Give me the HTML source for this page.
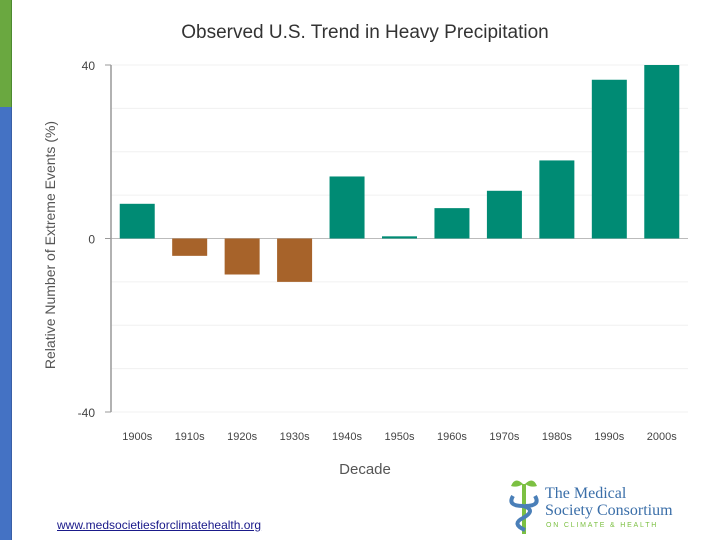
<!DOCTYPE html>
<html><head><meta charset="utf-8"><style>
body{margin:0;width:720px;height:540px;background:#fff;overflow:hidden;font-family:"Liberation Sans",sans-serif;position:relative}
</style></head><body>
<div style="position:absolute;left:0;top:0;width:11px;height:107px;background:#6aa840;border-right:1px solid #4d8a30"></div>
<div style="position:absolute;left:0;top:107px;width:11px;height:433px;background:#4472c4;border-right:1px solid #3a5fa6"></div>
<svg width="720" height="540" style="position:absolute;left:0;top:0" id="svg">
<text x="365" y="38" text-anchor="middle" font-size="19" fill="#333">Observed U.S. Trend in Heavy Precipitation</text>
<text x="365" y="474" text-anchor="middle" font-size="15" fill="#555">Decade</text>
<text transform="translate(55,245) rotate(-90)" text-anchor="middle" font-size="14" fill="#555">Relative Number of Extreme Events (%)</text>
</svg>
<a style="position:absolute;left:57px;top:518px;font-size:12px;color:#1a1a8a;text-decoration:underline">www.medsocietiesforclimatehealth.org</a>
<div style="position:absolute;left:505px;top:476px;width:200px;height:60px">
<svg width="40" height="60" style="position:absolute;left:0;top:0"><path d="M18 8 q-8 -8 -12 2 q6 2 12 -2z" fill="#7cc042"/><path d="M20 8 q8 -8 12 2 q-6 2 -12 -2z" fill="#7cc042"/><rect x="17" y="8" width="4" height="50" fill="#7cc042"/><path d="M8 20 q-6 10 10 10 q14 4 0 12 q-12 6 2 12" stroke="#4a7fb8" stroke-width="4" fill="none"/><path d="M30 20 q6 10 -10 10" stroke="#4a7fb8" stroke-width="4" fill="none"/></svg>
<div style="position:absolute;left:40px;top:9px;font-family:'Liberation Serif',serif;font-size:16px;color:#3a6ea8;line-height:17px">The Medical<br>Society Consortium</div>
<div style="position:absolute;left:41px;top:46px;font-size:7px;color:#7cc042;letter-spacing:1.8px">ON CLIMATE &amp; HEALTH</div>
</div>
<script>
const categories=["1900s","1910s","1920s","1930s","1940s","1950s","1960s","1970s","1980s","1990s","2000s"];
const values=[8,-4,-8.3,-10,14.3,0.5,7,11,18,36.6,40];
const yTicks=[40,0,-40];
const svg=document.getElementById('svg');const NS="http://www.w3.org/2000/svg";
const x0=111,x1=688,yTop=65,yBot=412;
function y(v){return yTop+(40-v)/80*(yBot-yTop);}
const bw=(x1-x0)/categories.length;
function xc(i){return x0+bw*(i+0.5);}
function mk(t,a){const e=document.createElementNS(NS,t);for(const k in a)e.setAttribute(k,a[k]);svg.appendChild(e);return e;}
for(let v=-40;v<=40;v+=10){const g=mk('line',{x1:x0,x2:x1,y1:y(v),y2:y(v),stroke:v===0?'#bbb':'#f0f0f0','stroke-width':1});

}
yTicks.forEach(v=>{const t=mk('text',{x:95,y:y(v)+5,'text-anchor':'end','font-size':12,fill:'#444'});t.textContent=v;


const tk=mk('line',{x1:105,x2:x0,y1:y(v),y2:y(v),stroke:'#999'});

});
const ax=mk('line',{x1:x0,x2:x0,y1:yTop,y2:yBot,stroke:'#999','stroke-width':1.5});


categories.forEach((c,i)=>{const v=values[i];const w=35;
const r=mk('rect',{x:xc(i)-w/2,y:Math.min(y(v),y(0)),width:w,height:Math.max(1.5,Math.abs(y(v)-y(0))),fill:v>=0?'#008b74':'#a7632a'});


const t=mk('text',{x:xc(i),y:440,'text-anchor':'middle','font-size':11,fill:'#444'});t.textContent=c;

});
</script>
</body></html>
